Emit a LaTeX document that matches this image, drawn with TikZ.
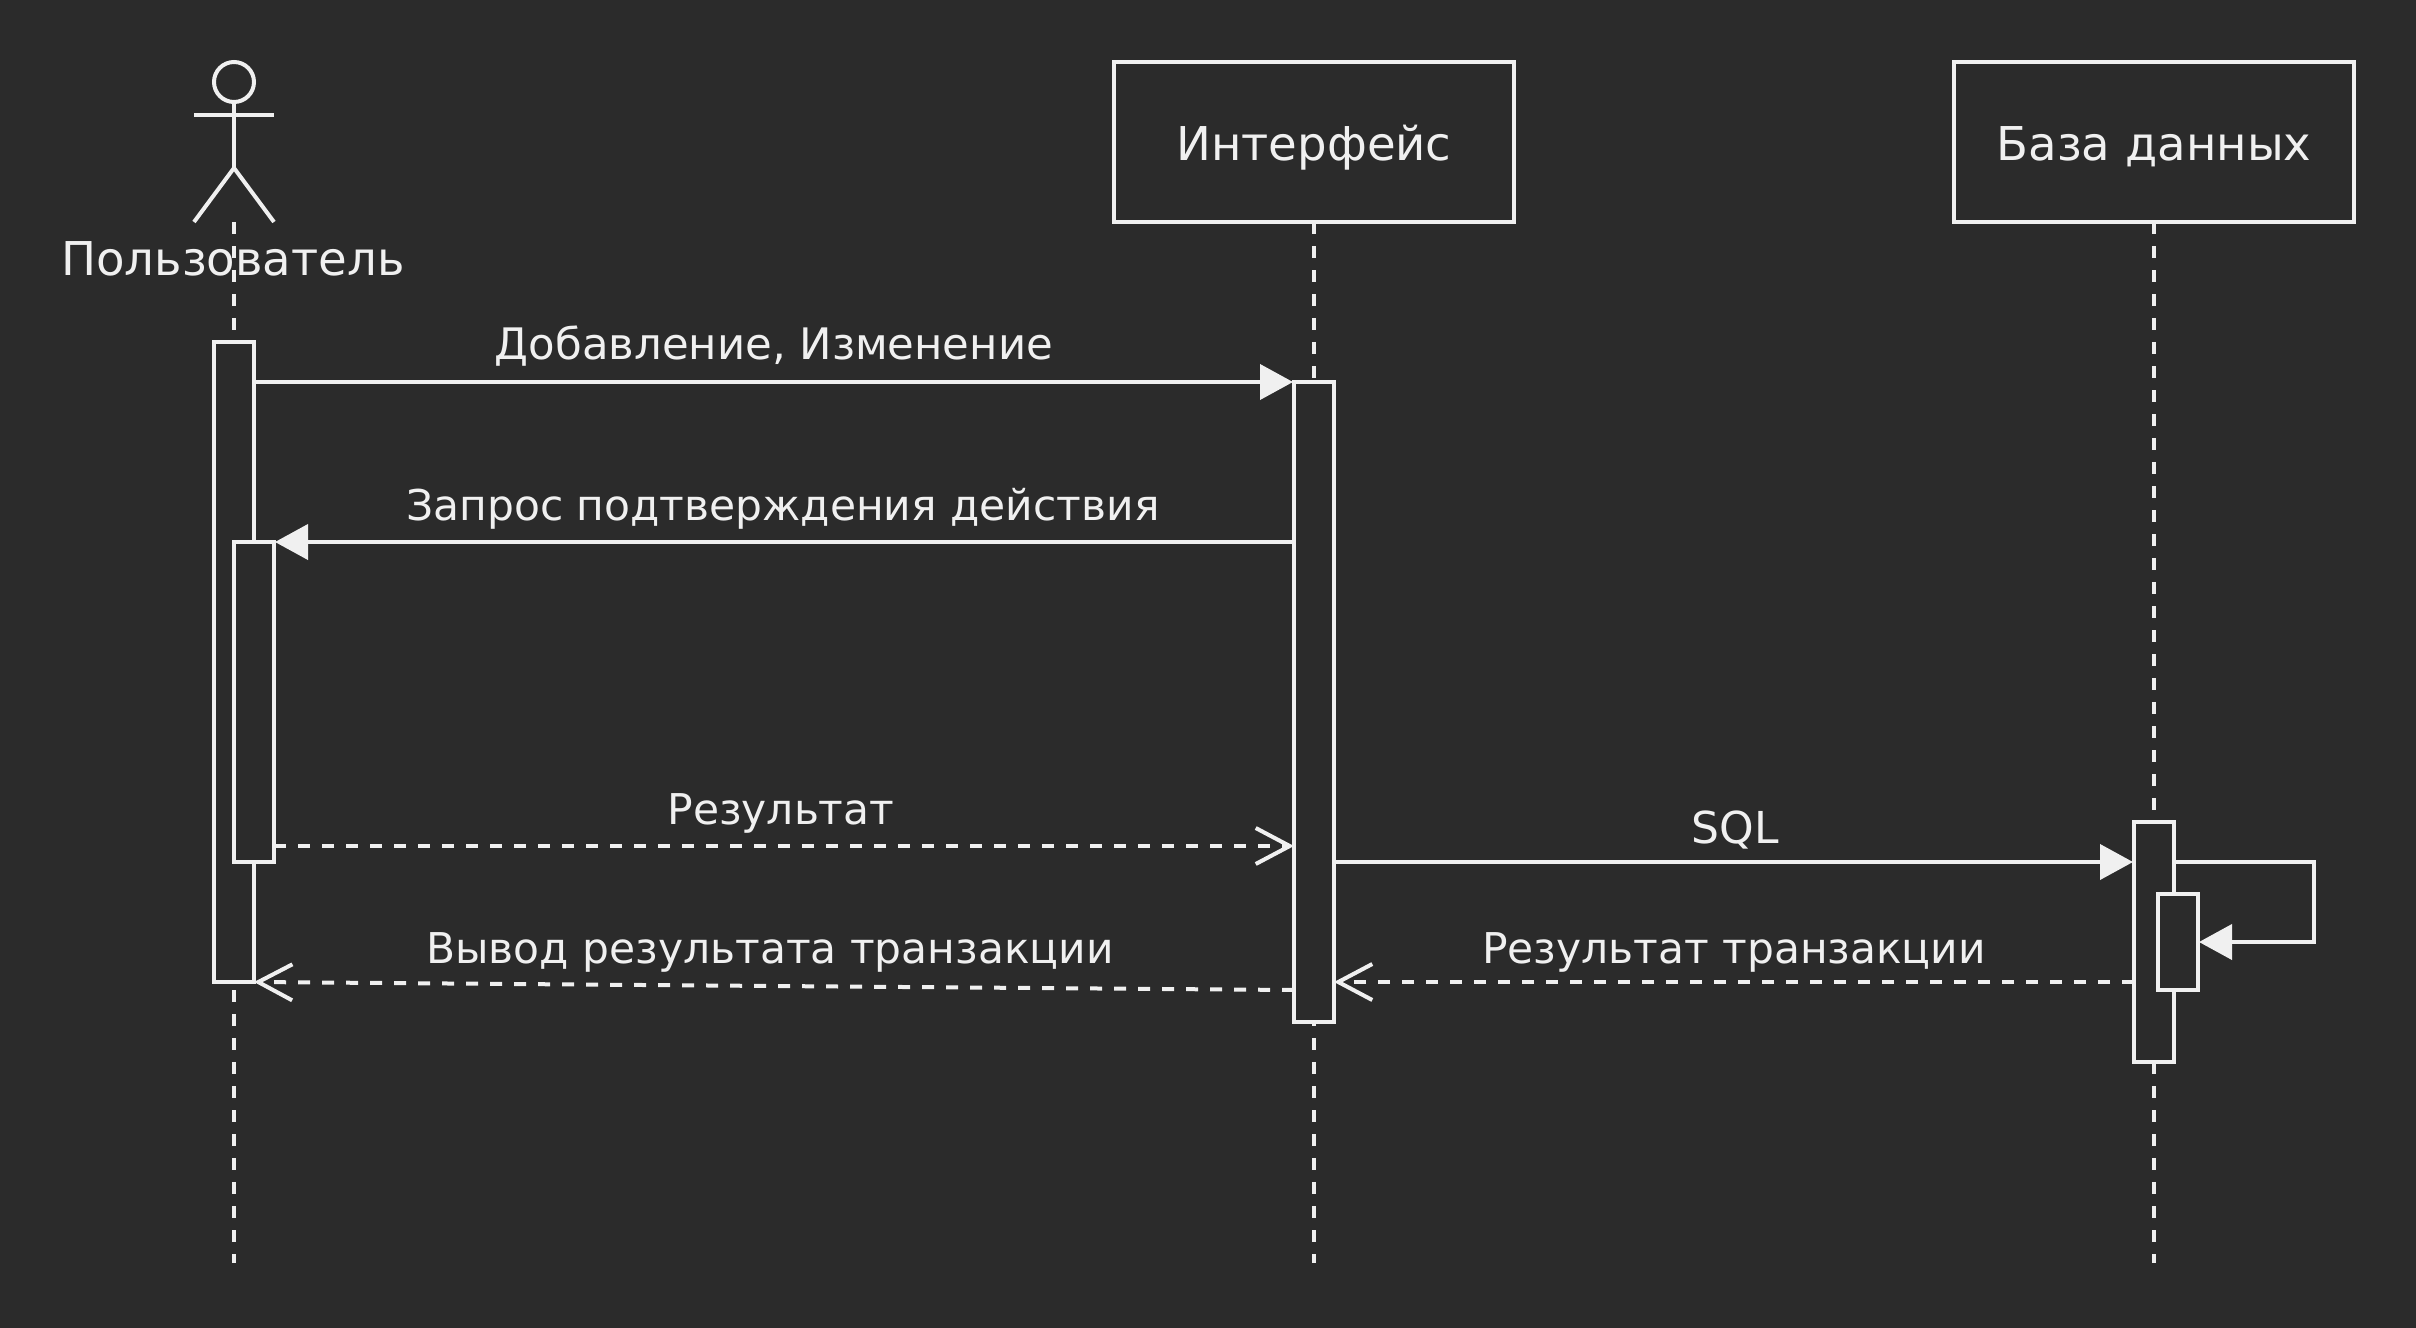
\documentclass[tikz,border=0pt]{standalone}
\usepackage{fontspec}
\setmainfont{DejaVu Sans}
\usetikzlibrary{arrows.meta}
\definecolor{bgdark}{HTML}{2B2B2B}
\definecolor{inkline}{HTML}{F0F0F0}
\begin{document}
\begin{tikzpicture}[x=0.5pt,y=-0.5pt,line width=2pt,color=inkline,
  main box/.style={rectangle,draw,fill=bgdark,minimum width=200pt,minimum height=80pt,inner sep=0pt,outer sep=0pt,text height=18pt,text depth=0pt,font=\fontsize{23.3}{26}\selectfont},
  act box/.style={rectangle,draw,fill=bgdark,minimum width=20pt,inner sep=0pt,outer sep=0pt},
  msg label/.style={anchor=base,inner sep=0pt,font=\fontsize{21.2}{24}\selectfont},
  life line/.style={dash pattern=on 6pt off 6pt},
  sync msg/.style={-{Triangle[length=16.5pt,width=17.5pt]},shorten >=0.5pt},
  reply msg/.style={-{Straight Barb[length=17pt,width=18pt]},dash pattern=on 6pt off 6pt}]
\fill[bgdark] (0,0) rectangle (2416,1328);
\useasboundingbox (0,0) rectangle (2416,1328);
% actor
\node[circle,draw,minimum size=20pt,inner sep=0pt,outer sep=0pt] (head) at (234,82) {};
\coordinate (hip) at (234,168);
\coordinate (arml) at (194,115);
\coordinate (armr) at (274,115);
\coordinate (legl) at (194,222);
\coordinate (legr) at (274,222);
\coordinate (user top) at (234,222);
\coordinate (user end) at (234,1263);
\coordinate (iface end) at (1314,1263);
\coordinate (db end) at (2154,1263);
\draw (head.south) -- (hip);
\draw (arml) -- (armr);
\draw (legl) -- (hip) -- (legr);
% participants
\node[main box] (iface) at (1314,142) {Интерфейс};
\node[main box] (db) at (2154,142) {База данных};
\draw[life line] (user top) -- (user end);
\draw[life line] (iface.south) -- (iface end);
\draw[life line] (db.south) -- (db end);
\node[anchor=base,inner sep=0pt,font=\fontsize{23.3}{26}\selectfont] (user) at (233,275) {Пользователь};
% activations
\node[act box,minimum height=320pt] (useract) at (234,662) {};
\node[act box,minimum height=160pt] (userconf) at (254,702) {};
\node[act box,minimum height=320pt] (ifaceact) at (1314,702) {};
\node[act box,minimum height=120pt] (dbact) at (2154,942) {};
\node[act box,minimum height=48pt] (dbself) at (2178,942) {};
% message rows
\coordinate (m1) at (0,382);
\coordinate (m2) at (0,542);
\coordinate (m3) at (0,846);
\coordinate (m4) at (0,862);
\coordinate (m5) at (0,982);
\coordinate (m6) at (0,990);
\coordinate (sx) at (2314,862);
\coordinate (sy) at (2314,942);
\draw[sync msg] (useract.east |- m1) -- (ifaceact.west |- m1);
\draw[sync msg] (ifaceact.west |- m2) -- (userconf.east |- m2);
\draw[reply msg] (userconf.east |- m3) -- (ifaceact.west |- m3);
\draw[sync msg] (ifaceact.east |- m4) -- (dbact.west |- m4);
\draw[sync msg] (dbact.east |- m4) -- (sx) -- (sy) -- (dbself.east |- sy);
\draw[reply msg] (dbact.west |- m5) -- (ifaceact.east |- m5);
\draw[reply msg] (ifaceact.west |- m6) -- (useract.south east);
% labels
\node[msg label,font=\fontsize{21.7}{24}\selectfont] (l1) at (774,359) {Добавление, Изменение};
\node[msg label] (l2) at (783,520) {Запрос подтверждения действия};
\node[msg label] (l3) at (781,824) {Результат};
\node[msg label,font=\fontsize{22}{24}\selectfont] (l4) at (1735,843) {SQL};
\node[msg label] (l5) at (1734,963) {Результат транзакции};
\node[msg label] (l6) at (770,963) {Вывод результата транзакции};
\end{tikzpicture}
\end{document}
